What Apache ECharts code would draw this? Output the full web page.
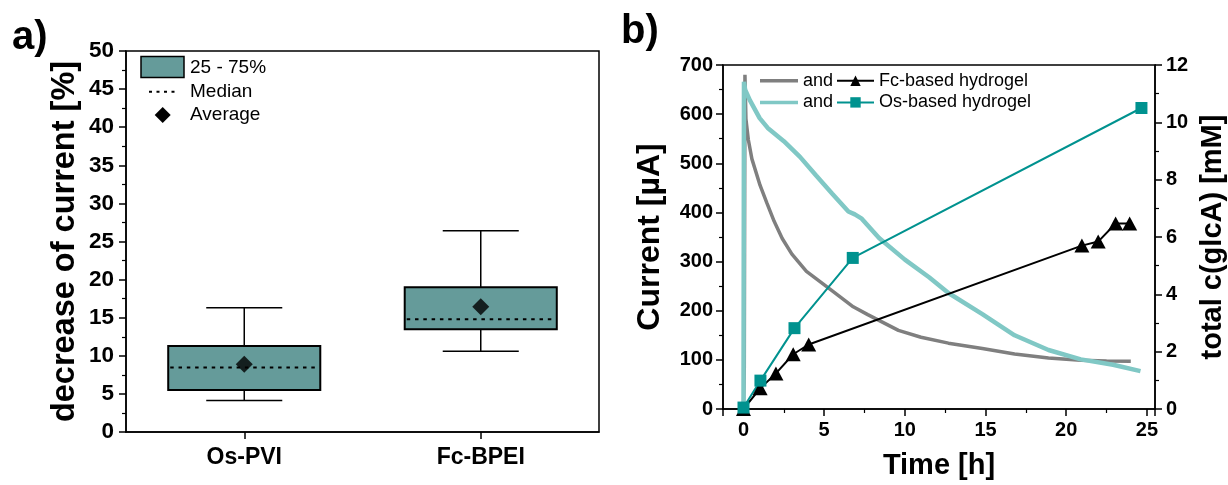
<!DOCTYPE html>
<html><head><meta charset="utf-8">
<script src="https://cdn.jsdelivr.net/npm/echarts@6/dist/echarts.min.js"></script>
<style>html,body{margin:0;padding:0;background:#fff}#c{width:1228px;height:485px}</style>
</head><body><div id="c"></div>
<script>
// ---- panel a) box plot data ----
const categories = ['Os-PVI', 'Fc-BPEI'];
const whiskerLow = [4.15, 10.6];
const q1 = [5.5, 13.5];
const median = [8.45, 14.8];
const q3 = [11.3, 19.0];
const whiskerHigh = [16.3, 26.4];
const average = [8.9, 16.45];

// ---- panel b) current traces ----
const timeFcCurrent = [0, 0.05, 0.09, 0.15, 0.3, 0.52, 1.03, 1.44, 1.9, 2.4, 3.0, 3.9, 5.4, 6.8, 7.7, 9.6, 11.0, 12.7, 14.8, 16.8, 18.9, 20.9, 22.5, 24.0];
const currentFc = [0, 85, 680, 590, 548, 509, 455, 420, 382, 347, 315, 280, 243, 208, 192, 160, 146, 134, 123, 112, 104, 99, 97.5, 97];
const timeOsCurrent = [0, 0.03, 0.1, 0.4, 1.0, 1.5, 2.5, 3.5, 4.5, 5.5, 6.5, 6.9, 7.3, 8.4, 10.0, 11.5, 12.7, 14.8, 16.8, 18.9, 20.9, 22.9, 24.6];
const currentOs = [0, 666, 650, 628, 592, 572, 545, 513, 475, 438, 402, 396, 388, 348, 304, 268, 236, 193, 150, 120, 101, 90, 77];

// ---- panel b) total c(glcA) ----
const timeFcConc = [0, 1.03, 2.01, 3.08, 4.04, 20.97, 21.98, 23.06, 23.93];
const concFc = [0, 0.72, 1.24, 1.91, 2.25, 5.70, 5.84, 6.47, 6.47];
const timeOsConc = [0, 1.05, 3.16, 6.77, 24.66];
const concOs = [0.05, 0.99, 2.82, 5.27, 10.5];

// tick settings
const yTicksA = {min: 0, max: 50, interval: 5};
const yTicksCurrent = {min: 0, max: 700, interval: 100};
const yTicksConc = {min: 0, max: 12, interval: 2};
const xRangeB = {min: -1.27, max: 25.5};

const zip = (a, b) => a.map((v, i) => [v, b[i]]);
const FONT = 'Liberation Sans, Arial, sans-serif';
const BOX = '#659b9a';
const TEAL = '#00928f';
const LTEAL = '#80c8c5';
const GRAY = '#7f7f7f';

const chart = echarts.init(document.getElementById('c'), null, {renderer: 'canvas'});

const axisCommon = {
  axisLine: {show: true, onZero: false, lineStyle: {color: '#000', width: 1.5}},
  axisTick: {show: true, inside: false, length: 7, lineStyle: {color: '#000', width: 1.5}},
  minorTick: {show: true, splitNumber: 2, length: 4, lineStyle: {color: '#000', width: 1.2}},
  splitLine: {show: false},
  nameTextStyle: {fontFamily: FONT, fontWeight: 'bold', fontSize: 32, color: '#000'}
};

const option = {
  animation: false,
  textStyle: {fontFamily: FONT},
  grid: [
    {left: 126, top: 51, width: 473, height: 381, show: true, borderColor: '#000', borderWidth: 1.5, containLabel: false},
    {left: 723, top: 65, right: 71, bottom: 72, show: true, borderColor: '#000', borderWidth: 1.5, containLabel: false}
  ],
  xAxis: [
    Object.assign({}, axisCommon, {
      type: 'category', gridIndex: 0, data: categories,
      axisTick: {show: true, alignWithLabel: true, length: 7, lineStyle: {color: '#000', width: 1.5}},
      minorTick: {show: false},
      axisLabel: {fontFamily: FONT, fontWeight: 'bold', fontSize: 23, color: '#000', margin: 14}
    }),
    Object.assign({}, axisCommon, {
      type: 'value', gridIndex: 1, min: xRangeB.min, max: xRangeB.max, splitNumber: 5,
      name: 'Time [h]', nameLocation: 'middle', nameGap: 42,
      nameTextStyle: {fontFamily: FONT, fontWeight: 'bold', fontSize: 29, color: '#000'},
      axisLabel: {fontFamily: FONT, fontWeight: 'bold', fontSize: 20, color: '#000', margin: 11,
        showMinLabel: false, showMaxLabel: false,
        formatter: v => (Math.abs(v % 5) < 1e-6 ? String(v) : '')}
    })
  ],
  yAxis: [
    Object.assign({}, axisCommon, {
      type: 'value', gridIndex: 0, min: yTicksA.min, max: yTicksA.max, interval: yTicksA.interval,
      name: 'decrease of current [%]', nameLocation: 'middle', nameGap: 44, nameRotate: 90,
      nameTextStyle: {fontFamily: FONT, fontWeight: 'bold', fontSize: 32.5, color: '#000'},
      axisLabel: {fontFamily: FONT, fontWeight: 'bold', fontSize: 22.5, color: '#000', margin: 12}
    }),
    Object.assign({}, axisCommon, {
      type: 'value', gridIndex: 1, position: 'left', min: yTicksCurrent.min, max: yTicksCurrent.max, interval: yTicksCurrent.interval,
      name: 'Current [µA]', nameLocation: 'middle', nameGap: 57, nameRotate: 90,
      axisLabel: {fontFamily: FONT, fontWeight: 'bold', fontSize: 20, color: '#000', margin: 10}
    }),
    Object.assign({}, axisCommon, {
      type: 'value', gridIndex: 1, position: 'right', min: yTicksConc.min, max: yTicksConc.max, interval: yTicksConc.interval,
      name: 'total c(glcA) [mM]', nameLocation: 'middle', nameGap: 43, nameRotate: 90,
      nameTextStyle: {fontFamily: FONT, fontWeight: 'bold', fontSize: 29, color: '#000'},
      axisLabel: {fontFamily: FONT, fontWeight: 'bold', fontSize: 20, color: '#000', margin: 11}
    })
  ],
  legend: [
    {
      left: 760, top: 70, orient: 'vertical', padding: 0, itemGap: 0, itemWidth: 38, itemHeight: 3.5,
      data: [{name: 'Fc current', icon: 'rect'}, {name: 'Os current', icon: 'rect'}], formatter: () => 'and',
      textStyle: {fontFamily: FONT, fontSize: 18, color: '#000', lineHeight: 21.6},
      selectedMode: false
    },
    {
      left: 836, top: 70, orient: 'vertical', padding: 0, itemGap: 0, itemWidth: 37, itemHeight: 13,
      data: ['Fc-based hydrogel', 'Os-based hydrogel'],
      textStyle: {fontFamily: FONT, fontSize: 18, color: '#000', lineHeight: 21.6},
      selectedMode: false
    }
  ],
  graphic: [
    {type: 'text', left: 12, top: 18, style: {text: 'a)', font: 'bold 40px ' + FONT, fill: '#000'}},
    {type: 'text', left: 621, top: 12, style: {text: 'b)', font: 'bold 40px ' + FONT, fill: '#000'}},
    // panel a legend
    {type: 'rect', shape: {x: 141, y: 56.5, width: 43, height: 21}, style: {fill: BOX, stroke: '#000', lineWidth: 1.5}},
    {type: 'text', x: 190, y: 67.5, style: {text: '25 - 75%', font: '19px ' + FONT, fill: '#000', verticalAlign: 'middle'}},
    {type: 'line', shape: {x1: 149, y1: 91.7, x2: 176, y2: 91.7}, style: {stroke: '#000', lineWidth: 2, lineDash: [3, 4.5]}},
    {type: 'text', x: 190, y: 91.7, style: {text: 'Median', font: '19px ' + FONT, fill: '#000', verticalAlign: 'middle'}},
    {type: 'polygon', shape: {points: [[162.7, 107], [170.7, 115], [162.7, 123], [154.7, 115]]}, style: {fill: '#000'}},
    {type: 'text', x: 190, y: 115, style: {text: 'Average', font: '19px ' + FONT, fill: '#000', verticalAlign: 'middle'}}
  ],
  series: [
    {
      type: 'custom', name: '25 - 75%', xAxisIndex: 0, yAxisIndex: 0, z: 2,
      data: categories.map((c, i) => [i, whiskerLow[i], q1[i], median[i], q3[i], whiskerHigh[i]]),
      renderItem(params, api) {
        const i = api.value(0);
        const pLo = api.coord([i, api.value(1)]);
        const pQ1 = api.coord([i, api.value(2)]);
        const pMed = api.coord([i, api.value(3)]);
        const pQ3 = api.coord([i, api.value(4)]);
        const pHi = api.coord([i, api.value(5)]);
        const bw = api.size([1, 0])[0] * 0.643;
        const cw = bw / 2;
        const cx = pQ1[0];
        const ls = {stroke: '#000', lineWidth: 1.5};
        return {
          type: 'group',
          children: [
            {type: 'line', shape: {x1: cx, y1: pQ3[1], x2: cx, y2: pHi[1]}, style: ls},
            {type: 'line', shape: {x1: cx, y1: pQ1[1], x2: cx, y2: pLo[1]}, style: ls},
            {type: 'line', shape: {x1: cx - cw / 2, y1: pHi[1], x2: cx + cw / 2, y2: pHi[1]}, style: ls},
            {type: 'line', shape: {x1: cx - cw / 2, y1: pLo[1], x2: cx + cw / 2, y2: pLo[1]}, style: ls},
            {type: 'rect', shape: {x: cx - bw / 2, y: pQ3[1], width: bw, height: pQ1[1] - pQ3[1]},
              style: {fill: BOX, stroke: '#000', lineWidth: 2}},
            {type: 'line', shape: {x1: cx - bw / 2 + 2, y1: pMed[1], x2: cx + bw / 2 - 1, y2: pMed[1]},
              style: {stroke: '#000', lineWidth: 2, lineDash: [3.5, 4.8]}}
          ]
        };
      }
    },
    {
      type: 'scatter', name: 'Average', xAxisIndex: 0, yAxisIndex: 0, z: 5,
      data: categories.map((c, i) => [i, average[i]]),
      symbol: 'diamond', symbolSize: 17, itemStyle: {color: '#000'}
    },
    {
      type: 'line', name: 'Fc current', xAxisIndex: 1, yAxisIndex: 1, z: 2,
      data: zip(timeFcCurrent, currentFc), symbol: 'none', smooth: false,
      lineStyle: {color: GRAY, width: 3.5}, itemStyle: {color: GRAY}
    },
    {
      type: 'line', name: 'Os current', xAxisIndex: 1, yAxisIndex: 1, z: 3,
      data: zip(timeOsCurrent, currentOs), symbol: 'none', smooth: false,
      lineStyle: {color: LTEAL, width: 4.5}, itemStyle: {color: LTEAL}
    },
    {
      type: 'line', name: 'Fc-based hydrogel', xAxisIndex: 1, yAxisIndex: 2, z: 4,
      data: zip(timeFcConc, concFc), symbol: 'triangle', symbolSize: [15, 14], showAllSymbol: true,
      lineStyle: {color: '#000', width: 2}, itemStyle: {color: '#000'}
    },
    {
      type: 'line', name: 'Os-based hydrogel', xAxisIndex: 1, yAxisIndex: 2, z: 4,
      data: zip(timeOsConc, concOs), symbol: 'rect', symbolSize: 12, showAllSymbol: true,
      lineStyle: {color: TEAL, width: 2}, itemStyle: {color: TEAL}
    }
  ]
};
chart.setOption(option);
</script></body></html>
